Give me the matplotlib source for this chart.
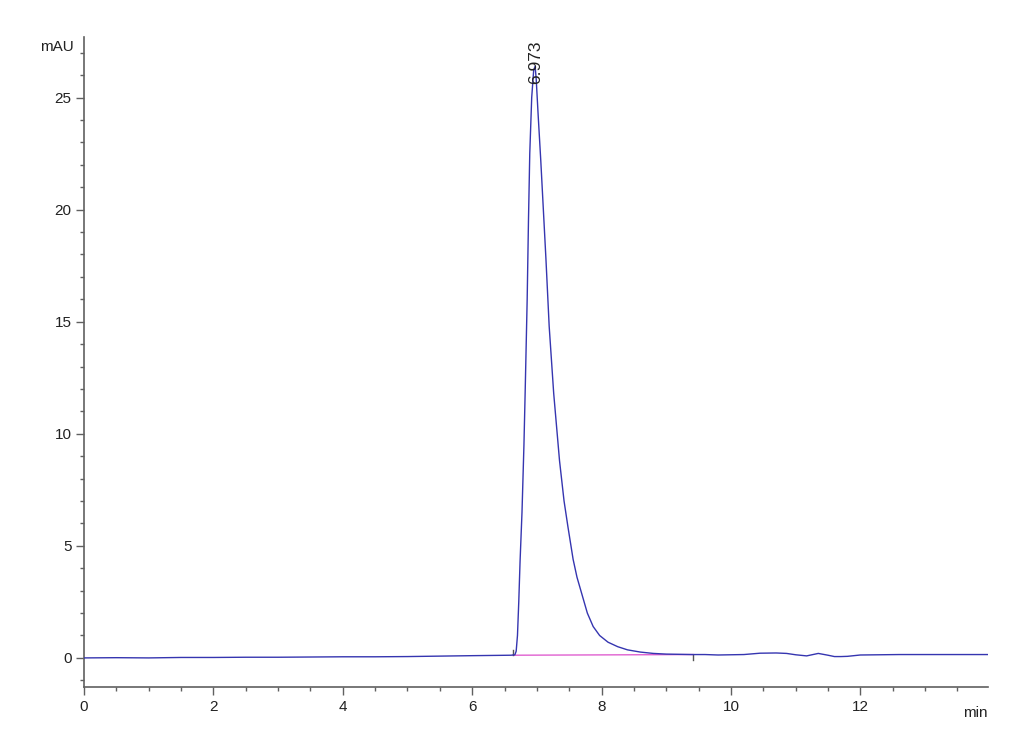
import numpy as np
import matplotlib
matplotlib.use('Agg')
import matplotlib.pyplot as plt
from matplotlib.ticker import MultipleLocator

plt.rcParams['font.family'] = ['Liberation Sans', 'DejaVu Sans']

# retention time (min) and signal (mAU)
time = [0.0, 0.5, 1.0, 1.5, 2.0, 2.5, 3.0, 3.5, 4.0, 4.5, 5.0, 5.5, 6.0, 6.3, 6.6,
        6.66, 6.68, 6.70, 6.72, 6.74, 6.77, 6.80, 6.82, 6.85, 6.87, 6.89, 6.92,
        6.95, 6.973, 6.99, 7.02, 7.06, 7.10, 7.14, 7.19, 7.26, 7.35, 7.42, 7.48,
        7.56, 7.62, 7.69, 7.78, 7.87, 7.97, 8.10, 8.25, 8.40, 8.60, 8.80, 9.00,
        9.20, 9.40, 9.60, 9.80, 10.0, 10.2, 10.45, 10.7, 10.86, 11.0, 11.17,
        11.35, 11.5, 11.6, 11.7, 11.8, 12.0, 12.3, 12.6, 13.0, 13.5, 14.0]
signal = [0.00, 0.01, 0.00, 0.02, 0.02, 0.03, 0.03, 0.04, 0.05, 0.05, 0.06, 0.08, 0.10,
          0.11, 0.12, 0.14, 0.30, 1.0, 2.5, 4.3, 6.5, 9.5, 12.0, 16.0, 19.5, 22.5, 25.0,
          26.2, 26.4, 25.8, 24.2, 22.2, 20.0, 17.8, 14.8, 11.8, 8.8, 7.0, 5.85,
          4.4, 3.6, 2.9, 2.0, 1.4, 1.0, 0.70, 0.50, 0.36, 0.26, 0.20, 0.17,
          0.16, 0.15, 0.15, 0.13, 0.14, 0.15, 0.21, 0.22, 0.20, 0.14, 0.09,
          0.20, 0.12, 0.06, 0.06, 0.07, 0.13, 0.14, 0.15, 0.15, 0.15, 0.15]

# integration baseline
base_t = [6.63, 9.42]
base_y = [0.12, 0.15]

peak_rt = 6.973
peak_label = '6.973'

fig = plt.figure(figsize=(10.3, 7.55), dpi=100)
ax = fig.add_axes([0.0816, 0.090, 0.8774, 0.861])

ax.plot(time, signal, color='#3535b0', lw=1.0, zorder=3)
ax.plot(base_t, base_y, color='#e060d0', lw=1.0, zorder=2)
# peak start / end markers
ax.plot([base_t[0], base_t[0]], [0.12, 0.35], color='#555555', lw=1.0)
ax.plot([base_t[1], base_t[1]], [0.15, -0.1], color='#555555', lw=1.0)

ax.text(peak_rt, 25.6, peak_label, rotation=90, ha='center', va='bottom',
        fontsize=12.5, color='#222222', zorder=4)

ax.set_xlim(0, 13.97)
ax.set_ylim(-1.3, 27.7)
ax.xaxis.set_major_locator(MultipleLocator(2))
ax.xaxis.set_minor_locator(MultipleLocator(0.5))
ax.yaxis.set_major_locator(MultipleLocator(5))
ax.yaxis.set_minor_locator(MultipleLocator(1))

for s in ['top', 'right']:
    ax.spines[s].set_visible(False)
for s in ['left', 'bottom']:
    ax.spines[s].set_color('#606060')
    ax.spines[s].set_linewidth(1.2)

ax.tick_params(which='major', length=6, width=1, color='#606060',
               labelsize=11, labelcolor='#222222', pad=3)
ax.tick_params(which='minor', length=3, width=1, color='#606060')

fig.text(57 / 1030, 1 - 47 / 755, 'mAU', ha='center', va='center',
         fontsize=11, color='#222222')
fig.text(975 / 1030, 1 - 713 / 755, 'min', ha='center', va='center',
         fontsize=11, color='#222222')

fig.savefig('out.png', dpi=100)
